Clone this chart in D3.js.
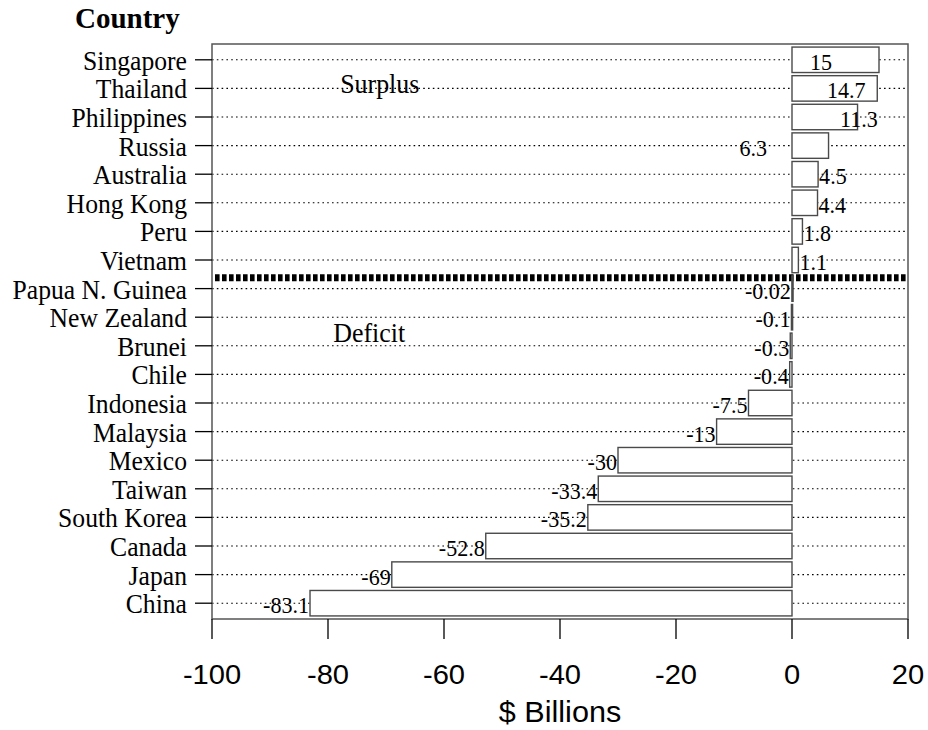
<!DOCTYPE html>
<html>
<head>
<meta charset="utf-8">
<script src="https://cdn.jsdelivr.net/npm/d3@7"></script>
<style>
  html, body { margin: 0; padding: 0; background: #fff; }
  svg { display: block; }
</style>
</head>
<body>
<svg id="chart" width="928" height="730"></svg>
<script>
// ---- data ----
const countries = ["Singapore","Thailand","Philippines","Russia","Australia","Hong Kong","Peru","Vietnam",
  "Papua N. Guinea","New Zealand","Brunei","Chile","Indonesia","Malaysia","Mexico","Taiwan",
  "South Korea","Canada","Japan","China"];
const balances = [15, 14.7, 11.3, 6.3, 4.5, 4.4, 1.8, 1.1,
  -0.02, -0.1, -0.3, -0.4, -7.5, -13, -30, -33.4, -35.2, -52.8, -69, -83.1];
const valueLabels = ["15","14.7","11.3","6.3","4.5","4.4","1.8","1.1",
  "-0.02","-0.1","-0.3","-0.4","-7.5","-13","-30","-33.4","-35.2","-52.8","-69","-83.1"];
const xTicks = [-100, -80, -60, -40, -20, 0, 20];
const xDomain = [-100, 20];
const axisTitle = "$ Billions";
const yTitle = "Country";
const groupNotes = [
  { text: "Surplus", x: -77.9, row: "Thailand" },
  { text: "Deficit", x: -79.1, row: "New Zealand", shift: 0.7 }
];

// ---- layout ----
const svg = d3.select("#chart");
const L = 212, R = 908, T = 44, B = 619;

const x = d3.scaleLinear().domain(xDomain).range([L, R]);
const y = d3.scaleBand().domain(countries).range([T + 1.5, B - 1.5]).paddingInner(0.11).paddingOuter(0.055);
const rowC = d => y(d) + y.bandwidth() / 2;
const step = y.step();

const serif = "'Liberation Serif','Times New Roman',Times,serif";
const sans = "'Liberation Sans',Arial,Helvetica,sans-serif";

function putText(g, str, px, py, opts) {
  return g.append("text")
    .attr("transform", `translate(${px},${py}) scale(${opts.sx || 1},1)`)
    .attr("text-anchor", opts.anchor || "start")
    .attr("font-family", opts.family || serif)
    .attr("font-size", opts.size)
    .attr("font-weight", opts.weight || "normal")
    .attr("fill", "#000")
    .text(str);
}

// grid lines (dotted) at each row
svg.append("g").selectAll("line").data(countries).join("line")
  .attr("x1", L).attr("x2", R)
  .attr("y1", d => rowC(d)).attr("y2", d => rowC(d))
  .attr("stroke", "#000").attr("stroke-width", 1.1)
  .attr("stroke-dasharray", "1.6,3.2");

// thick separator between surplus and deficit
const lastSurplus = countries[balances.findIndex(v => v < 0) - 1];
const sepY = rowC(lastSurplus) + step * 0.62;
svg.append("line")
  .attr("x1", L + 3).attr("x2", R - 2)
  .attr("y1", sepY).attr("y2", sepY)
  .attr("stroke", "#000").attr("stroke-width", 7)
  .attr("stroke-dasharray", "4.6,2.4");

// bars
const barData = countries.map((c, i) => ({ c, v: balances[i], lab: valueLabels[i] }));
svg.append("g").selectAll("rect").data(barData).join("rect")
  .attr("x", d => x(Math.min(0, d.v)))
  .attr("width", d => Math.max(1.2, Math.abs(x(d.v) - x(0))))
  .attr("y", d => y(d.c))
  .attr("height", y.bandwidth())
  .attr("fill", "#fff")
  .attr("stroke", "#4a4a4a")
  .attr("stroke-width", 1.4);

// value labels
const labelPlacement = {
  "Singapore":   { from: "zero", dx: 18, anchor: "start" },
  "Thailand":    { from: "zero", dx: 35, anchor: "start" },
  "Philippines": { from: "zero", dx: 48, anchor: "start" },
  "Russia":      { from: "zero", dx: -25, anchor: "end" }
};
const gLab = svg.append("g");
barData.forEach(d => {
  const p = labelPlacement[d.c];
  let px, anchor;
  if (p) { px = (p.from === "zero" ? x(0) : x(d.v)) + p.dx; anchor = p.anchor; }
  else if (d.v >= 0) { px = x(d.v) + 1; anchor = "start"; }
  else { px = x(d.v) - 1; anchor = "end"; }
  putText(gLab, d.lab, px, rowC(d.c) + 10, { size: 24, sx: 0.92, anchor });
});

// frame
svg.append("rect")
  .attr("x", L).attr("y", T).attr("width", R - L).attr("height", B - T)
  .attr("fill", "none").attr("stroke", "#555").attr("stroke-width", 1.5);

// y ticks and labels
const gy = svg.append("g");
countries.forEach(c => {
  gy.append("line").attr("x1", L - 17).attr("x2", L).attr("y1", rowC(c)).attr("y2", rowC(c))
    .attr("stroke", "#000").attr("stroke-width", 1.3);
  putText(gy, c, L - 25, rowC(c) + 10, { size: 27, sx: 0.95, anchor: "end" });
});

// x ticks and labels
const gx = svg.append("g");
xTicks.forEach(t => {
  gx.append("line").attr("x1", x(t)).attr("x2", x(t)).attr("y1", B).attr("y2", B + 20)
    .attr("stroke", "#000").attr("stroke-width", 1.3);
  putText(gx, String(t), x(t), 684, { size: 28, sx: 1.04, family: sans, anchor: "middle" });
});
putText(svg, axisTitle, x((xDomain[0] + xDomain[1]) / 2), 722, { size: 30, sx: 1.02, family: sans, anchor: "middle" });

// titles / notes
putText(svg, yTitle, 75, 28, { size: 29, weight: "bold" });
groupNotes.forEach(n => {
  putText(svg, n.text, x(n.x), rowC(n.row) + 5 + (n.shift || 0) * step, { size: 27, sx: 0.96 });
});
</script>
</body>
</html>
